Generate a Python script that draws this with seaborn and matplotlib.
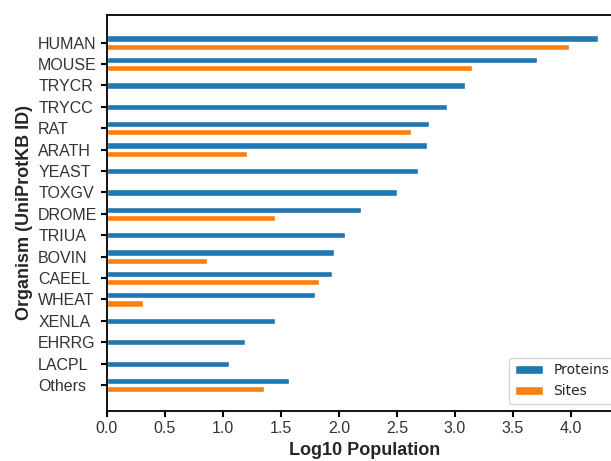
import numpy as np
import pandas as pd
import matplotlib
matplotlib.use('Agg')
import matplotlib.pyplot as plt
import seaborn as sns

# Log10 counts per organism
organisms = ['HUMAN', 'MOUSE', 'TRYCR', 'TRYCC', 'RAT', 'ARATH', 'YEAST', 'TOXGV',
             'DROME', 'TRIUA', 'BOVIN', 'CAEEL', 'WHEAT', 'XENLA', 'EHRRG', 'LACPL', 'Others']
proteins = [4.23, 3.71, 3.09, 2.93, 2.78, 2.76, 2.68, 2.50,
            2.19, 2.05, 1.96, 1.94, 1.79, 1.45, 1.19, 1.05, 1.57]
sites = [3.98, 3.15, np.nan, np.nan, 2.62, 1.21, np.nan, np.nan,
         1.45, np.nan, 0.86, 1.83, 0.31, np.nan, np.nan, np.nan, 1.35]

sns.set_style('ticks')
plt.rcParams['font.family'] = ['Liberation Sans', 'DejaVu Sans']

df = pd.DataFrame({'Organism': organisms, 'Proteins': proteins, 'Sites': sites})
paired = df[df['Sites'].notna()].melt(id_vars='Organism', var_name='Type', value_name='Log10')
single = df[df['Sites'].isna()]

fig = plt.figure(figsize=(6.11, 4.61), dpi=100)
ax = fig.add_axes([0.175, 0.109, 0.843, 0.858])

palette = {'Proteins': '#1f77b4', 'Sites': '#ff7f0e'}

# organisms with both series: dodged pair
sns.barplot(data=paired, x='Log10', y='Organism', hue='Type', order=organisms,
            hue_order=['Proteins', 'Sites'], palette=palette, saturation=1,
            width=0.76, gap=0.24, orient='h', ax=ax)
# organisms with proteins only: one centred bar
sns.barplot(data=single, x='Proteins', y='Organism', order=organisms,
            color=palette['Proteins'], saturation=1, width=0.29, orient='h', ax=ax)

ax.set_xlim(0, 4.44)
ax.set_ylim(17.2, -1.28)
ax.set_xticks(np.arange(0, 4.01, 0.5))
ax.set_xlabel('Log10 Population', fontsize=13, fontweight='bold', color='.15')
ax.set_ylabel('Organism (UniProtKB ID)', fontsize=13, fontweight='bold', color='.15')
ax.tick_params(axis='both', labelsize=11.5, labelcolor='.2', color='black',
               length=4, width=1.5)
ax.tick_params(axis='y', pad=45.5)
for lab in ax.get_yticklabels():
    lab.set_horizontalalignment('left')
for sp in ax.spines.values():
    sp.set_color('black')
    sp.set_linewidth(1.3)

leg = ax.legend(loc='lower right', bbox_to_anchor=(1.0, 0.0),
                prop={'family': 'DejaVu Sans', 'size': 10},
                frameon=True, fancybox=True)
leg.get_frame().set_edgecolor('#cccccc')

fig.savefig('out.png', dpi=100)
